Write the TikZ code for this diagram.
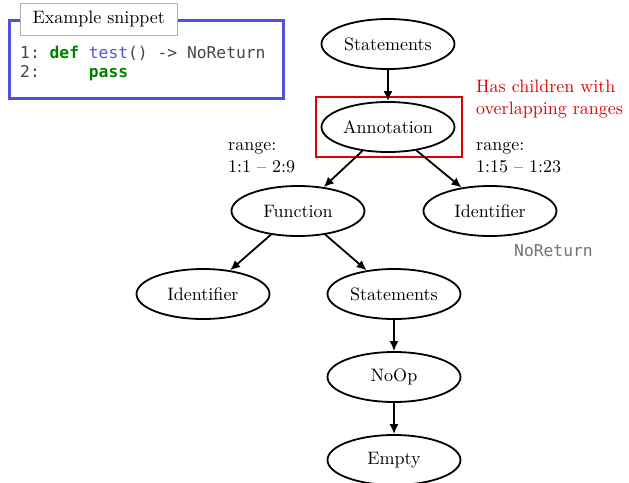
\documentclass[tikz,border=0pt]{standalone}
\usepackage{fontspec}
\setmainfont{lmroman10-regular}[Extension=.otf,BoldFont=lmroman10-bold]
\setmonofont{DejaVu Sans Mono}
\usetikzlibrary{shapes.geometric,arrows.meta}
\definecolor{boxblue}{RGB}{80,80,225}
\definecolor{kwgreen}{RGB}{0,128,0}
\definecolor{fnblue}{RGB}{80,80,230}
\definecolor{codegray}{RGB}{70,70,70}
\definecolor{hlred}{RGB}{225,0,0}
\begin{document}
\begin{tikzpicture}[x=1pt,y=-1pt,
  astnode/.style={draw,line width=1.8pt,ellipse,minimum width=133pt,minimum height=50pt,inner sep=0pt,font=\fontsize{18}{20}\selectfont},
  edge/.style={line width=1.8pt,-{Latex[length=10pt,width=9pt]}},
  lbl/.style={anchor=north west,align=left,inner sep=0pt,font=\fontsize{18}{22}\selectfont},
  code/.style={anchor=west,inner sep=0pt,font=\fontsize{16.3}{20}\ttfamily,text=codegray}]
\useasboundingbox (0,0) rectangle (629,482);
% snippet
\node[draw=boxblue,line width=2.5pt,minimum width=274pt,minimum height=78pt,anchor=north west,inner sep=0pt] (snip) at (8,19) {};
\node[draw=gray!60,fill=white,line width=0.6pt,anchor=north west,minimum width=157pt,minimum height=32pt,inner sep=0pt,font=\fontsize{18}{20}\selectfont] (title) at (20,3) {Example snippet};
\node[code] (l1) at (20,53) {1: \textcolor{kwgreen}{\bfseries def} \textcolor{fnblue}{test}() -> NoReturn};
\node[code] (l2) at (20,73) {2:\ \ \ \ \ \textcolor{kwgreen}{\bfseries pass}};
% tree
\node[astnode] (st1) at (388,44) {Statements};
\node[astnode] (ann) at (388,127) {Annotation};
\node[astnode] (fun) at (298,211) {Function};
\node[astnode] (id1) at (490,211) {Identifier};
\node[astnode] (id2) at (203,294) {Identifier};
\node[astnode] (st2) at (394,294) {Statements};
\node[astnode] (noop) at (394,377) {NoOp};
\node[astnode] (emp) at (394,460) {Empty};
\node[draw=hlred,line width=2pt,minimum width=146pt,minimum height=60pt,inner sep=0pt] (hl) at (389,127) {};
\draw[edge] (st1) -- (ann);
\draw[edge] (ann) -- (fun);
\draw[edge] (ann) -- (id1);
\draw[edge] (fun) -- (id2);
\draw[edge] (fun) -- (st2);
\draw[edge] (st2) -- (noop);
\draw[edge] (noop) -- (emp);
% labels
\node[lbl,text=hlred] (note) at (476,80) {Has children with\\overlapping ranges};
\node[lbl] (r1) at (228,142) {range:\\1:1 -- 2:9};
\node[lbl] (r2) at (476,142) {range:\\1:15 -- 1:23};
\node[code,text=gray!90!black] (nr) at (514,251) {NoReturn};
\end{tikzpicture}
\end{document}
